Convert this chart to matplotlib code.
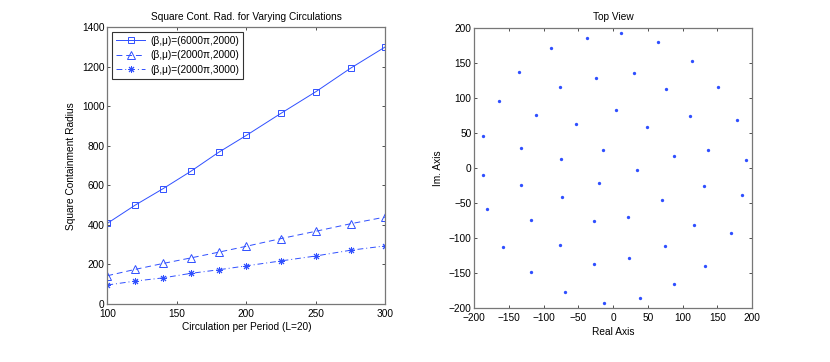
import matplotlib
matplotlib.use("Agg")
import matplotlib.pyplot as plt
import numpy as np

plt.rcParams['font.family'] = ['Liberation Sans', 'DejaVu Sans']

# ---- left panel data ----
circulation = [100, 120, 140, 160, 180, 200, 225, 250, 275, 300]
radius_6000pi_2000 = [408, 500, 583, 671, 767, 853, 965, 1074, 1193, 1301]
radius_2000pi_2000 = [143, 175, 205, 233, 262, 292, 331, 368, 406, 440]
radius_2000pi_3000 = [96, 116, 132, 155, 173, 193, 218, 243, 272, 294]
labels = ['(β,μ)=(6000π,2000)', '(β,μ)=(2000π,2000)', '(β,μ)=(2000π,3000)']

# ---- right panel data (top view) ----
real_pts = [-187, -165, -136, -133, -111, -89, -77, -75, -53, -38, -24, -14, 4, 12,
            30, 34, 49, 64, 76, 87, 110, 114, 136, 151, 179, 192, -188,
            -133, -74, -20, 71, 131, 186, -182, -119, -27, 22, 116, 170, -158,
            -77, 74, 23, -28, -118, 133, 87, -69, 38, -13]
imag_pts = [45, 95, 137, 28, 76, 171, 115, 13, 63, 185, 129, 26, 82, 192,
            136, -3, 58, 179, 112, 17, 74, 153, 26, 116, 69, 12, -10,
            -24, -42, -22, -45, -26, -39, -58, -74, -76, -70, -81, -92, -113,
            -110, -111, -129, -137, -148, -139, -166, -177, -186, -193]

W, H = 830, 362
fig = plt.figure(figsize=(W / 100, H / 100), dpi=100)

def ax_rect(x0, y0, x1, y1):
    return [x0 / W, 1 - y1 / H, (x1 - x0) / W, (y1 - y0) / H]

ax1 = fig.add_axes(ax_rect(107.3, 27.3, 385.3, 304))
ax2 = fig.add_axes(ax_rect(474.3, 27.7, 752, 308.3))

blue = '#2f4fff'
fs = 7.3

ax1.plot(circulation, radius_6000pi_2000, '-', marker='s', color=blue, lw=0.7,
         ms=5, mfc='none', mew=0.7, label=labels[0])
ax1.plot(circulation, radius_2000pi_2000, '--', marker='^', color=blue, lw=0.7,
         ms=6, mfc='none', mew=0.7, dashes=(6, 4), label=labels[1])
ax1.plot(circulation, radius_2000pi_3000, '-.', marker=(8, 2, 0), color=blue, lw=0.7,
         ms=5, mew=0.7, dashes=(6, 3, 1, 3), label=labels[2])
ax1.set_xlim(100, 300)
ax1.set_ylim(0, 1400)
ax1.set_xticks([100, 150, 200, 250, 300])
ax1.set_yticks(np.arange(0, 1401, 200))
ax1.set_title('Square Cont. Rad. for Varying Circulations', fontsize=fs, pad=5.5)
ax1.set_xlabel('Circulation per Period (L=20)', fontsize=fs, labelpad=2.5)
ax1.set_ylabel('Square Containment Radius', fontsize=fs, labelpad=4)
leg = ax1.legend(loc='upper left', fontsize=fs, frameon=True, fancybox=False,
                 edgecolor='black', handlelength=2.9, borderaxespad=0.45,
                 borderpad=0.4, labelspacing=0.45, handletextpad=0.45)
leg.get_frame().set_linewidth(0.8)

ax2.plot(real_pts, imag_pts, 'o', color=blue, ms=2.4, mew=0)
ax2.set_xlim(-200, 200)
ax2.set_ylim(-200, 200)
ax2.set_xticks(np.arange(-200, 201, 50))
ax2.set_yticks(np.arange(-200, 201, 50))
ax2.set_title('Top View', fontsize=fs, pad=5.5)
ax2.set_xlabel('Real Axis', fontsize=fs, labelpad=2.5)
ax2.set_ylabel('Im. Axis', fontsize=fs, labelpad=4)

for ax in (ax1, ax2):
    ax.tick_params(direction='in', length=2.2, width=0.6, top=True, right=True,
                   labelsize=fs, color='#333333')
    ax.tick_params(axis='x', pad=3.5)
    ax.tick_params(axis='y', pad=2)
    for sp in ax.spines.values():
        sp.set_color('#777777')
        sp.set_linewidth(0.9)

ax2.set_xticklabels([str(v).replace('-', '\u2212') for v in np.arange(-200, 201, 50)])
ax2.set_yticklabels([str(v).replace('-', '\u2212') for v in np.arange(-200, 201, 50)])

fig.savefig('out.png', dpi=100)
